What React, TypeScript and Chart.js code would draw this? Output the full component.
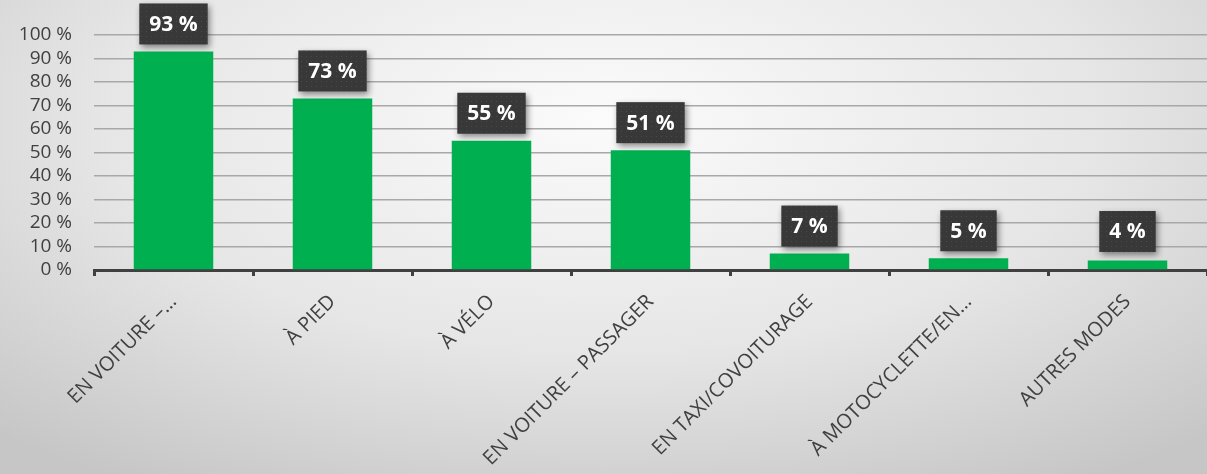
import React, { useEffect, useRef } from "react";
import { Chart, registerables } from "chart.js";

Chart.register(...registerables);

const categories = [
  "EN VOITURE –…",
  "À PIED",
  "À VÉLO",
  "EN VOITURE – PASSAGER",
  "EN TAXI/COVOITURAGE",
  "À MOTOCYCLETTE/EN…",
  "AUTRES MODES",
];
const values = [93, 73, 55, 51, 7, 5, 4];
const yTicksMax = 100;
const yTickStep = 10;

function makePattern(ctx: CanvasRenderingContext2D) {
  const c = document.createElement("canvas");
  c.width = 5;
  c.height = 5;
  const p = c.getContext("2d")!;
  p.fillStyle = "#383838";
  p.fillRect(0, 0, 5, 5);
  p.fillStyle = "#4a4a4a";
  p.fillRect(1, 1, 1, 1);
  return ctx.createPattern(c, "repeat");
}

const labelPlugin = {
  id: "boxLabels",
  afterDatasetsDraw(chart: any) {
    const ctx: CanvasRenderingContext2D = chart.ctx;
    const meta = chart.getDatasetMeta(0);
    const pattern = makePattern(ctx);
    ctx.save();
    ctx.font = "bold 21px 'Open Sans'";
    meta.data.forEach((bar: any, i: number) => {
      const text = values[i] + " %";
      const tw = ctx.measureText(text).width;
      const w = tw + 20;
      const h = 41;
      const bottom = Math.min(bar.y - 7, 252);
      const x = bar.x - w / 2;
      const y = bottom - h;
      ctx.save();
      ctx.shadowColor = "rgba(0,0,0,0.45)";
      ctx.shadowBlur = 6;
      ctx.shadowOffsetX = 2;
      ctx.shadowOffsetY = 3;
      ctx.fillStyle = pattern || "#383838";
      ctx.fillRect(x, y, w, h);
      ctx.restore();
      ctx.fillStyle = "#ffffff";
      ctx.textAlign = "center";
      ctx.textBaseline = "middle";
      ctx.fillText(text, bar.x, y + h / 2 + 1);
    });
    ctx.restore();
  },
};

export default function App() {
  const ref = useRef<HTMLCanvasElement>(null);
  useEffect(() => {
    if (!ref.current) return;
    const chart = new Chart(ref.current, {
      type: "bar",
      data: {
        labels: categories,
        datasets: [
          {
            data: values,
            backgroundColor: "#00B050",
            borderWidth: 0,
            barPercentage: 0.5,
            categoryPercentage: 1,
          },
        ],
      },
      options: {
        animation: false,
        responsive: true,
        maintainAspectRatio: false,
        layout: { padding: { top: 35, left: 0, right: 0, bottom: 0 } },
        plugins: {
          legend: { display: false },
          tooltip: { enabled: false },
        },
        scales: {
          x: {
            afterFit: (s: any) => {
              s.height = 204;
            },
            grid: {
              drawOnChartArea: false,
              drawTicks: true,
              tickLength: 6,
              color: "#404040",
              lineWidth: 3,
              offset: true,
            },
            border: { display: true, color: "#404040", width: 3 },
            ticks: {
              minRotation: 45,
              maxRotation: 45,
              autoSkip: false,
              padding: 14,
              color: "#404040",
              font: { family: "'Open Sans'", size: 20 },
            },
          },
          y: {
            min: 0,
            max: yTicksMax,
            afterFit: (s: any) => {
              s.width = 94;
            },
            border: { display: false },
            grid: {
              color: "#a8a8a8",
              lineWidth: 1.5,
              drawTicks: false,
            },
            ticks: {
              stepSize: yTickStep,
              autoSkip: false,
              padding: 22,
              color: "#404040",
              font: { family: "'Open Sans'", size: 19 },
              callback: (v: any) => v + " %",
            },
          },
        },
      },
      plugins: [labelPlugin],
    });
    return () => chart.destroy();
  }, []);
  return (
    <div
      style={{
        position: "fixed",
        left: 0,
        top: 0,
        width: 1207,
        height: 474,
        background:
          "radial-gradient(ellipse 75% 90% at 50% 25%, #fbfbfb 0%, #e6e6e6 55%, #c6c6c6 100%)",
      }}
    >
      <canvas ref={ref} />
    </div>
  );
}
